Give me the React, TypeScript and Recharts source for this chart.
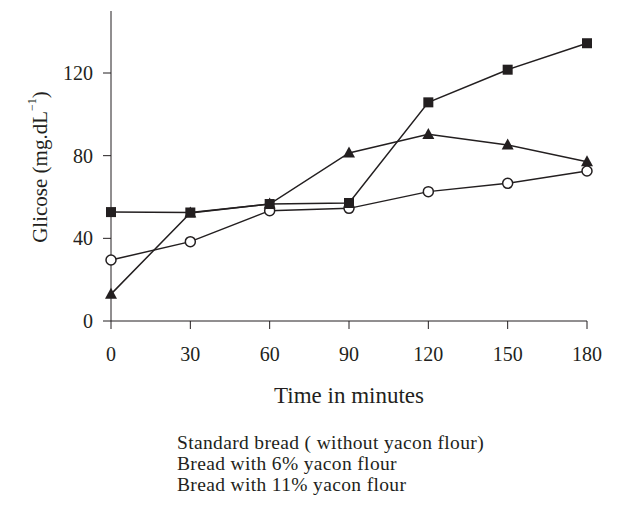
import { LineChart, Line, XAxis, YAxis, Legend } from "recharts"

const times = [0, 30, 60, 90, 120, 150, 180]
const standardBread = [52.7, 52.5, 56.6, 57.1, 105.8, 121.6, 134.4]
const yacon6 = [13, 52.3, 56.6, 81.3, 90.3, 85.2, 77.1]
const yacon11 = [29.5, 38.4, 53.4, 54.5, 62.6, 66.6, 72.6]
const xTicks = [0, 30, 60, 90, 120, 150, 180]
const yTicks = [0, 40, 80, 120]
const legendLabels = [
    "Standard bread ( without yacon flour)",
    "Bread with 6% yacon flour",
    "Bread with 11% yacon flour",
]

const data = times.map((t, i) => ({
    time: t,
    standard: standardBread[i],
    y6: yacon6[i],
    y11: yacon11[i],
}))

const INK = "#231f20"
const FONT = "'Liberation Serif', 'DejaVu Serif', serif"

const SquareDot = (props: any) => {
    const { cx, cy, index } = props
    if (cx == null || cy == null) return null
    return <rect key={`sq-${index}`} x={cx - 5} y={cy - 5} width={10} height={10} fill={INK} />
}

const TriangleDot = (props: any) => {
    const { cx, cy, index } = props
    if (cx == null || cy == null) return null
    return (
        <path
            key={`tr-${index}`}
            d={`M${cx},${cy - 6.5} L${cx + 6},${cy + 4.5} L${cx - 6},${cy + 4.5} Z`}
            fill={INK}
        />
    )
}

const LegendText = () => (
    <div
        style={{
            fontFamily: FONT,
            fontSize: 19.5,
            lineHeight: "21.5px",
            letterSpacing: "0.35px",
            color: INK,
        }}
    >
        {legendLabels.map((l) => (
            <div key={l} style={{ height: 21 }}>{l}</div>
        ))}
    </div>
)

const YLabel = () => (
    <text
        x={40}
        y={167}
        transform="rotate(-90 40 167)"
        textAnchor="middle"
        dominantBaseline="central"
        fontFamily={FONT}
        fontSize={21}
        fill={INK}
    >
        Glicose (mg.dL
        <tspan fontSize={12} dy={-8}>−1</tspan>
        <tspan dy={8}>)</tspan>
    </text>
)

export default function App() {
    return (
        <div style={{ position: "absolute", left: 0, top: 0 }}>
            <LineChart
                width={632}
                height={506}
                data={data}
                margin={{ top: 11, right: 45, left: 0, bottom: 62 }}
            >
                <XAxis
                    dataKey="time"
                    type="number"
                    domain={[0, 180]}
                    ticks={xTicks}
                    tickSize={8}
                    height={60}
                    stroke={INK}
                    tick={{ fill: INK, fontFamily: FONT, fontSize: 20, dy: 16 }}
                    label={{
                        value: "Time in minutes",
                        position: "insideBottom",
                        offset: 0,
                        dy: 22,
                        fill: INK,
                        fontFamily: FONT,
                        fontSize: 23,
                    }}
                />
                <YAxis
                    type="number"
                    domain={[0, 150]}
                    ticks={yTicks}
                    tickSize={8}
                    width={111}
                    stroke={INK}
                    tick={{ fill: INK, fontFamily: FONT, fontSize: 20, dx: -8 }}
                    label={{ content: () => <YLabel /> }}
                />
                <Legend
                    content={() => <LegendText />}
                    layout="vertical"
                    wrapperStyle={{ left: 177, top: 432, width: 420 }}
                />
                <Line
                    dataKey="y6"
                    stroke={INK}
                    strokeWidth={1.5}
                    dot={<TriangleDot />}
                    isAnimationActive={false}
                />
                <Line
                    dataKey="y11"
                    stroke={INK}
                    strokeWidth={1.5}
                    dot={{ r: 5, fill: "#fff", stroke: INK, strokeWidth: 1.5 }}
                    isAnimationActive={false}
                />
                <Line
                    dataKey="standard"
                    stroke={INK}
                    strokeWidth={1.5}
                    dot={<SquareDot />}
                    isAnimationActive={false}
                />
            </LineChart>
        </div>
    )
}
